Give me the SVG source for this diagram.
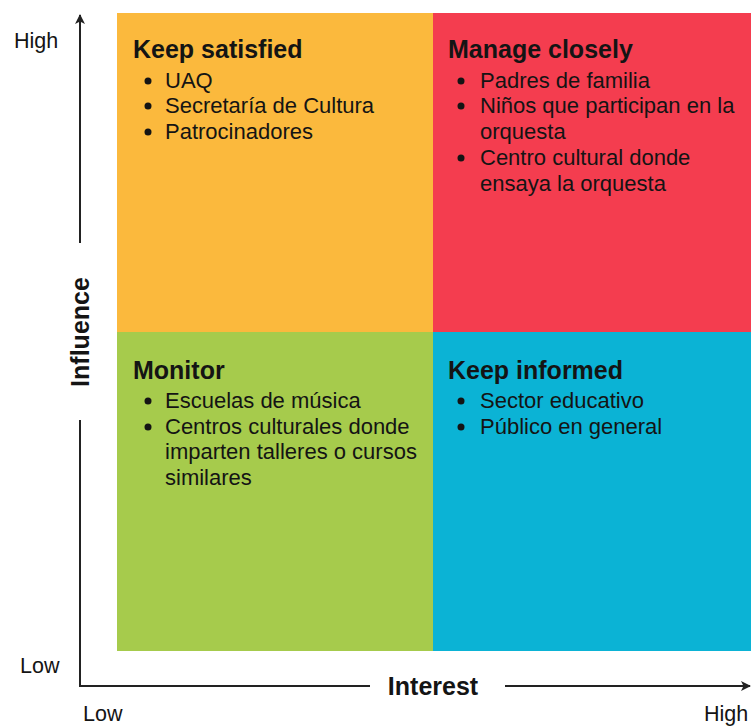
<svg xmlns="http://www.w3.org/2000/svg" width="751" height="726" viewBox="0 0 751 726">
<style>
text{font-family:"Liberation Sans",Arial,sans-serif;fill:#141414}
.t{font-size:25px;font-weight:bold}
.i{font-size:22px}
.a{font-size:21.5px}
.ax{stroke:#222;stroke-width:2;fill:none}
.b{fill:#141414}
</style>
<defs>
<marker id="ah" viewBox="0 0 10 10" refX="9" refY="5" markerWidth="10" markerHeight="10" markerUnits="userSpaceOnUse" orient="auto">
<path d="M0,0 L10,5 L0,10 L2.5,5 z" fill="#222"/>
</marker>
</defs>
<rect width="751" height="726" fill="#fff"/>
<g id="keep-satisfied">
<rect x="117" y="13" width="316" height="319" fill="#FBB93D"/>
<text class="t" x="133" y="58">Keep satisfied</text>
<circle class="b" cx="148" cy="81" r="3.5"/><text class="i" x="165" y="88">UAQ</text>
<circle class="b" cx="148" cy="106" r="3.5"/><text class="i" x="165" y="113">Secretaría de Cultura</text>
<circle class="b" cx="148" cy="132" r="3.5"/><text class="i" x="165" y="139">Patrocinadores</text>
</g>
<g id="manage-closely">
<rect x="433" y="13" width="318" height="319" fill="#F43D4F"/>
<text class="t" x="448" y="58">Manage closely</text>
<circle class="b" cx="461" cy="81" r="3.5"/><text class="i" x="480" y="88">Padres de familia</text>
<circle class="b" cx="461" cy="106" r="3.5"/><text class="i" x="480" y="113">Niños que participan en la</text>
<text class="i" x="480" y="139">orquesta</text>
<circle class="b" cx="461" cy="158" r="3.5"/><text class="i" x="480" y="165">Centro cultural donde</text>
<text class="i" x="480" y="191">ensaya la orquesta</text>
</g>
<g id="monitor">
<rect x="117" y="332" width="316" height="319" fill="#A6CB4C"/>
<text class="t" x="133" y="379">Monitor</text>
<circle class="b" cx="148" cy="401" r="3.5"/><text class="i" x="165" y="408">Escuelas de música</text>
<circle class="b" cx="148" cy="427" r="3.5"/><text class="i" x="165" y="434">Centros culturales donde</text>
<text class="i" x="165" y="459">imparten talleres o cursos</text>
<text class="i" x="165" y="485">similares</text>
</g>
<g id="keep-informed">
<rect x="433" y="332" width="318" height="319" fill="#0BB3D5"/>
<text class="t" x="448" y="379">Keep informed</text>
<circle class="b" cx="461" cy="401" r="3.5"/><text class="i" x="480" y="408">Sector educativo</text>
<circle class="b" cx="461" cy="427" r="3.5"/><text class="i" x="480" y="434">Público en general</text>
</g>
<g id="axes">
<path class="ax" d="M80,243 L80,15" marker-end="url(#ah)"/>
<path class="ax" d="M80,420 L80,686 L370,686"/>
<path class="ax" d="M505,686 L750,686" marker-end="url(#ah)"/>
<text class="t" transform="translate(89,332) rotate(-90)" text-anchor="middle">Influence</text>
<text class="t" x="433" y="695" text-anchor="middle">Interest</text>
<text class="a" x="14" y="48">High</text>
<text class="a" x="20" y="673">Low</text>
<text class="a" x="83" y="721">Low</text>
<text class="a" x="704" y="721">High</text>
</g>
</svg>
